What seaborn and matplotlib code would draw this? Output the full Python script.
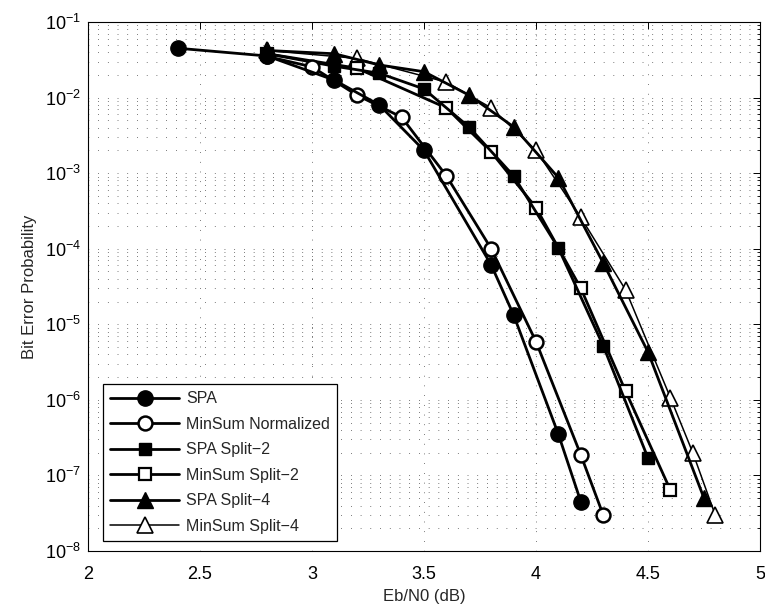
import matplotlib
matplotlib.use("Agg")
import numpy as np
import pandas as pd
import matplotlib.pyplot as plt
import seaborn as sns
from matplotlib.ticker import FixedLocator, FuncFormatter, NullFormatter, LogFormatterSciNotation

# ---- data ----
spa_x = [2.4, 2.8, 3.1, 3.3, 3.5, 3.8, 3.9, 4.1, 4.2]
spa_y = [4.5e-2, 3.55e-2, 1.7e-2, 8.0e-3, 2.0e-3, 6.1e-5, 1.33e-5, 3.5e-7, 4.5e-8]

msn_x = [2.8, 3.0, 3.2, 3.4, 3.6, 3.8, 4.0, 4.2, 4.3]
msn_y = [3.5e-2, 2.55e-2, 1.08e-2, 5.5e-3, 9.2e-4, 1.0e-4, 5.9e-6, 1.87e-7, 3.0e-8]

spa2_x = [2.8, 3.1, 3.3, 3.5, 3.7, 3.9, 4.1, 4.3, 4.5]
spa2_y = [3.8e-2, 2.6e-2, 2.1e-2, 1.3e-2, 4.1e-3, 9.2e-4, 1.02e-4, 5.2e-6, 1.7e-7]

ms2_x = [2.8, 3.2, 3.6, 3.8, 4.0, 4.2, 4.4, 4.6]
ms2_y = [3.8e-2, 2.45e-2, 7.3e-3, 1.9e-3, 3.5e-4, 3.0e-5, 1.3e-6, 6.4e-8]

spa4_x = [2.8, 3.1, 3.3, 3.5, 3.7, 3.9, 4.1, 4.3, 4.5, 4.75]
spa4_y = [4.2e-2, 3.8e-2, 2.7e-2, 2.2e-2, 1.08e-2, 4.1e-3, 8.7e-4, 6.5e-5, 4.3e-6, 5.0e-8]

ms4_x = [2.8, 3.2, 3.6, 3.8, 4.0, 4.2, 4.4, 4.6, 4.7, 4.8]
ms4_y = [4.2e-2, 3.3e-2, 1.6e-2, 7.3e-3, 2.0e-3, 2.6e-4, 2.85e-5, 1.07e-6, 2.0e-7, 3.0e-8]

series_names = ["SPA", "MinSum Normalized", "SPA Split\u22122",
                "MinSum Split\u22122", "SPA Split\u22124", "MinSum Split\u22124"]
series_x = [spa_x, msn_x, spa2_x, ms2_x, spa4_x, ms4_x]
series_y = [spa_y, msn_y, spa2_y, ms2_y, spa4_y, ms4_y]

x_ticks = [2, 2.5, 3, 3.5, 4, 4.5, 5]
y_decades = [-8, -7, -6, -5, -4, -3, -2, -1]

# ---- styling ----
sns.set_style("white")
plt.rcParams["font.family"] = ["Liberation Sans", "DejaVu Sans"]
plt.rcParams["mathtext.fontset"] = "custom"
plt.rcParams["mathtext.rm"] = "Liberation Sans"
plt.rcParams["mathtext.it"] = "Liberation Sans:italic"
plt.rcParams["mathtext.bf"] = "Liberation Sans:bold"

styles = [
    dict(marker="o", markersize=11, markerfacecolor="black", markeredgewidth=1.0, linewidth=2.0),
    dict(marker="o", markersize=10, markerfacecolor="white", markeredgewidth=1.8, linewidth=2.0),
    dict(marker="s", markersize=9, markerfacecolor="black", markeredgewidth=1.0, linewidth=2.0),
    dict(marker="s", markersize=8.5, markerfacecolor="white", markeredgewidth=1.6, linewidth=2.0),
    dict(marker="^", markersize=12, markerfacecolor="black", markeredgewidth=1.0, linewidth=2.0),
    dict(marker="^", markersize=11, markerfacecolor="white", markeredgewidth=1.2, linewidth=1.1),
]

frames = []
for name, xs, ys in zip(series_names, series_x, series_y):
    frames.append(pd.DataFrame({"EbN0": xs, "BER": ys, "series": name}))
df = pd.concat(frames, ignore_index=True)

fig = plt.figure(figsize=(7.65, 6.06), dpi=100)
ax = fig.add_axes([88 / 765, 1 - 551 / 606, (760 - 88) / 765, (551 - 22) / 606])

n = len(series_names)
for i, (name, st) in enumerate(zip(series_names, styles)):
    sub = df[df["series"] == name]
    sns.lineplot(data=sub, x="EbN0", y="BER", ax=ax, color="black",
                 markeredgecolor="black", label=name, estimator=None,
                 sort=False, zorder=10 + (n - i), legend=False, **st)

ax.set_yscale("log")
ax.set_xlim(2, 5)
ax.set_ylim(1e-8, 1e-1)

major_y = [10.0 ** d for d in y_decades]
minor_y = [m * 10.0 ** d for d in y_decades[:-1] for m in range(2, 10)]

ax.xaxis.set_major_locator(FixedLocator(x_ticks))
ax.xaxis.set_major_formatter(FuncFormatter(lambda v, p: f"{v:g}"))
ax.yaxis.set_major_locator(FixedLocator(major_y))
ax.yaxis.set_major_formatter(LogFormatterSciNotation(base=10))
ax.yaxis.set_minor_locator(FixedLocator(minor_y))
ax.yaxis.set_minor_formatter(NullFormatter())
ax.xaxis.offsetText.set_visible(False)
ax.yaxis.offsetText.set_visible(False)

ax.tick_params(axis="both", which="both", direction="in", top=True, right=True,
               colors="black", labelsize=13)
ax.tick_params(axis="both", which="major", length=5, width=0.7)
ax.tick_params(axis="y", which="minor", length=2.5, width=0.6,
               labelleft=False, labelright=False)
ax.tick_params(axis="x", which="major", pad=11)
ax.tick_params(axis="y", which="major", pad=5)

dot = (0, (1, 13))
ax.grid(True, axis="x", which="major", color="black", linestyle=dot, linewidth=0.5)
ax.grid(True, axis="y", which="both", color="black", linestyle=dot, linewidth=0.5)

for sp in ax.spines.values():
    sp.set_visible(True)
    sp.set_color("black")
    sp.set_linewidth(0.8)

ax.set_xlabel("Eb/N0 (dB)", fontsize=12, labelpad=4)
ax.set_ylabel("Bit Error Probability", fontsize=12, labelpad=6)

handles, labels = ax.get_legend_handles_labels()
leg = ax.legend(handles, labels, loc="lower left", bbox_to_anchor=(15 / 672, 10 / 529),
                borderaxespad=0, fontsize=11.5, frameon=True, fancybox=False,
                framealpha=1, edgecolor="black", numpoints=1, handlelength=4.3,
                labelspacing=0.66, borderpad=0.45, handletextpad=0.45)
leg.get_frame().set_linewidth(0.9)
leg.set_zorder(50)

fig.savefig("out.png", dpi=100)
